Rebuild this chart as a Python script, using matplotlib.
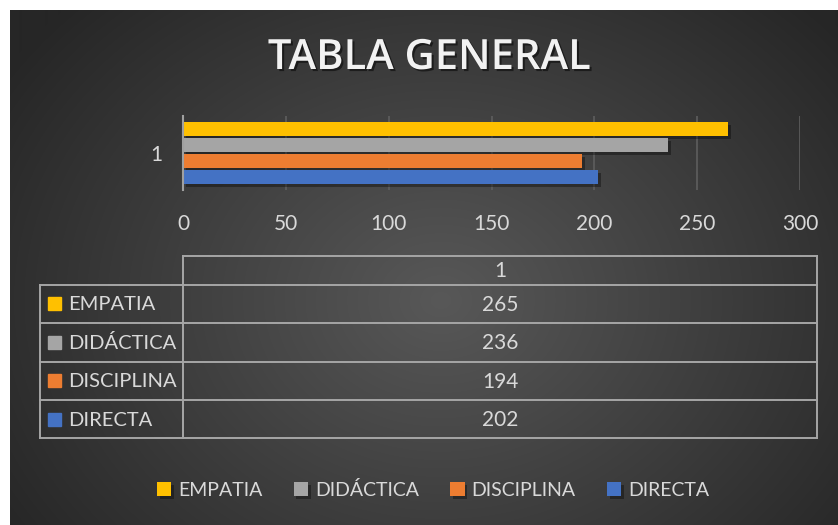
import numpy as np
import matplotlib
matplotlib.use("Agg")
import matplotlib.pyplot as plt
import matplotlib.patheffects as pe
from matplotlib.patches import Rectangle

# ---- data ----
series = ["EMPATIA", "DIDÁCTICA", "DISCIPLINA", "DIRECTA"]
values = [265, 236, 194, 202]
colors = ["#FFC000", "#A5A5A5", "#ED7D31", "#4472C4"]
category = "1"
xticks = [0, 50, 100, 150, 200, 250, 300]
title = "TABLA GENERAL"

W, H = 838, 525
fig = plt.figure(figsize=(W / 100, H / 100), dpi=100)
fig.patch.set_facecolor("white")

def fx(px):
    return px / W

def fy(py):
    return 1 - py / H

# ---- background radial gradient ----
bg = fig.add_axes([fx(10), 0, 1 - fx(10), 1 - 10 / H])
bg.set_axis_off()
yy, xx = np.mgrid[0:515, 0:828]
cx, cy = 430, 290
d = np.sqrt(((xx - cx) / 520) ** 2 + ((yy - cy) / 420) ** 2)
d = np.clip(d, 0, 1)
inner = np.array([0x58, 0x58, 0x58]) / 255
outer = np.array([0x26, 0x26, 0x26]) / 255
img = inner[None, None, :] * (1 - d[..., None]) + outer[None, None, :] * d[..., None]
bg.imshow(img, aspect="auto", extent=[0, 1, 0, 1], interpolation="bilinear")
bg.set_xlim(0, 1)
bg.set_ylim(0, 1)

txt_color = "#D9D9D9"
font = "Lato"
fs = 15
fs_small = 14

# ---- title ----
fig.text(fx(429), fy(58), title, ha="center", va="center", color="#F2F2F2",
         fontsize=30, fontweight="semibold", family="Open Sans",
         path_effects=[pe.withSimplePatchShadow(offset=(1.5, -1.5), shadow_rgbFace="black", alpha=0.5)])

# ---- bar axes ----
ax = fig.add_axes([fx(183), fy(190), fx(800) - fx(183), (190 - 116) / H])
ax.set_facecolor("none")
ax.set_xlim(0, 300)
ax.set_ylim(0.5, -0.5)
bh = 14 / 74
offsets = [-24 / 74, -8 / 74, 8 / 74, 24 / 74]
handles = []
for s, v, c, o in zip(series, values, colors, offsets):
    b = ax.barh(o, v, height=bh, color=c, zorder=3, label=s,
                path_effects=[pe.withSimplePatchShadow(offset=(2, -2), shadow_rgbFace="black", alpha=0.35)])
    handles.append(b)
ax.set_xticks(xticks)
ax.set_xticklabels([str(t) for t in xticks], color=txt_color, fontsize=fs, family=font)
ax.tick_params(axis="x", length=0, pad=17)
ax.set_yticks([0])
ax.set_yticklabels([category], color=txt_color, fontsize=fs, family=font)
ax.tick_params(axis="y", length=0, pad=15)
ax.grid(axis="x", color="#5E5E5E", linewidth=1.2, zorder=0)
for sp in ["top", "right", "bottom"]:
    ax.spines[sp].set_visible(False)
ax.spines["left"].set_color("#A0A0A0")
ax.spines["left"].set_linewidth(1.5)
ax.spines["left"].set_zorder(4)

# ---- data table ----
lc = "#A6A6A6"
lw = 1.4
tl, tm, tr = 40, 183, 817
rows_y = [284.5, 323, 361.5, 400, 438]
top_y = 255.5

def hline(x0, x1, y):
    fig.add_artist(plt.Line2D([fx(x0), fx(x1)], [fy(y), fy(y)], color=lc, lw=lw))

def vline(x, y0, y1):
    fig.add_artist(plt.Line2D([fx(x), fx(x)], [fy(y0), fy(y1)], color=lc, lw=lw))

hline(tm, tr, top_y)
for y in rows_y:
    hline(tl, tr, y)
vline(tm, top_y, rows_y[-1])
vline(tr, top_y, rows_y[-1])
vline(tl, rows_y[0], rows_y[-1])

fig.text(fx((tm + tr) / 2), fy((top_y + rows_y[0]) / 2 + 1), category, ha="center", va="center",
         color=txt_color, fontsize=fs, family=font)
for i, (s, v, c) in enumerate(zip(series, values, colors)):
    y0, y1 = rows_y[i], rows_y[i + 1]
    yc = (y0 + y1) / 2
    fig.add_artist(Rectangle((fx(48), fy(yc + 6.5)), fx(13), 13 / H, color=c,
                             transform=fig.transFigure))
    fig.text(fx(68), fy(yc + 1), s, ha="left", va="center", color=txt_color,
             fontsize=fs_small + 0.5, family=font)
    fig.text(fx((tm + tr) / 2), fy(yc + 1), str(v), ha="center", va="center",
             color=txt_color, fontsize=fs, family=font)

# ---- legend ----
leg = fig.legend(handles=handles, labels=series, loc="center", ncol=4,
                 bbox_to_anchor=(fx(433), fy(490)), frameon=False,
                 prop={"family": font, "size": fs_small}, labelcolor=txt_color,
                 handlelength=0.75, handleheight=0.75, handletextpad=0.35,
                 columnspacing=1.6)

fig.savefig("out.png", dpi=100, facecolor=fig.get_facecolor())
